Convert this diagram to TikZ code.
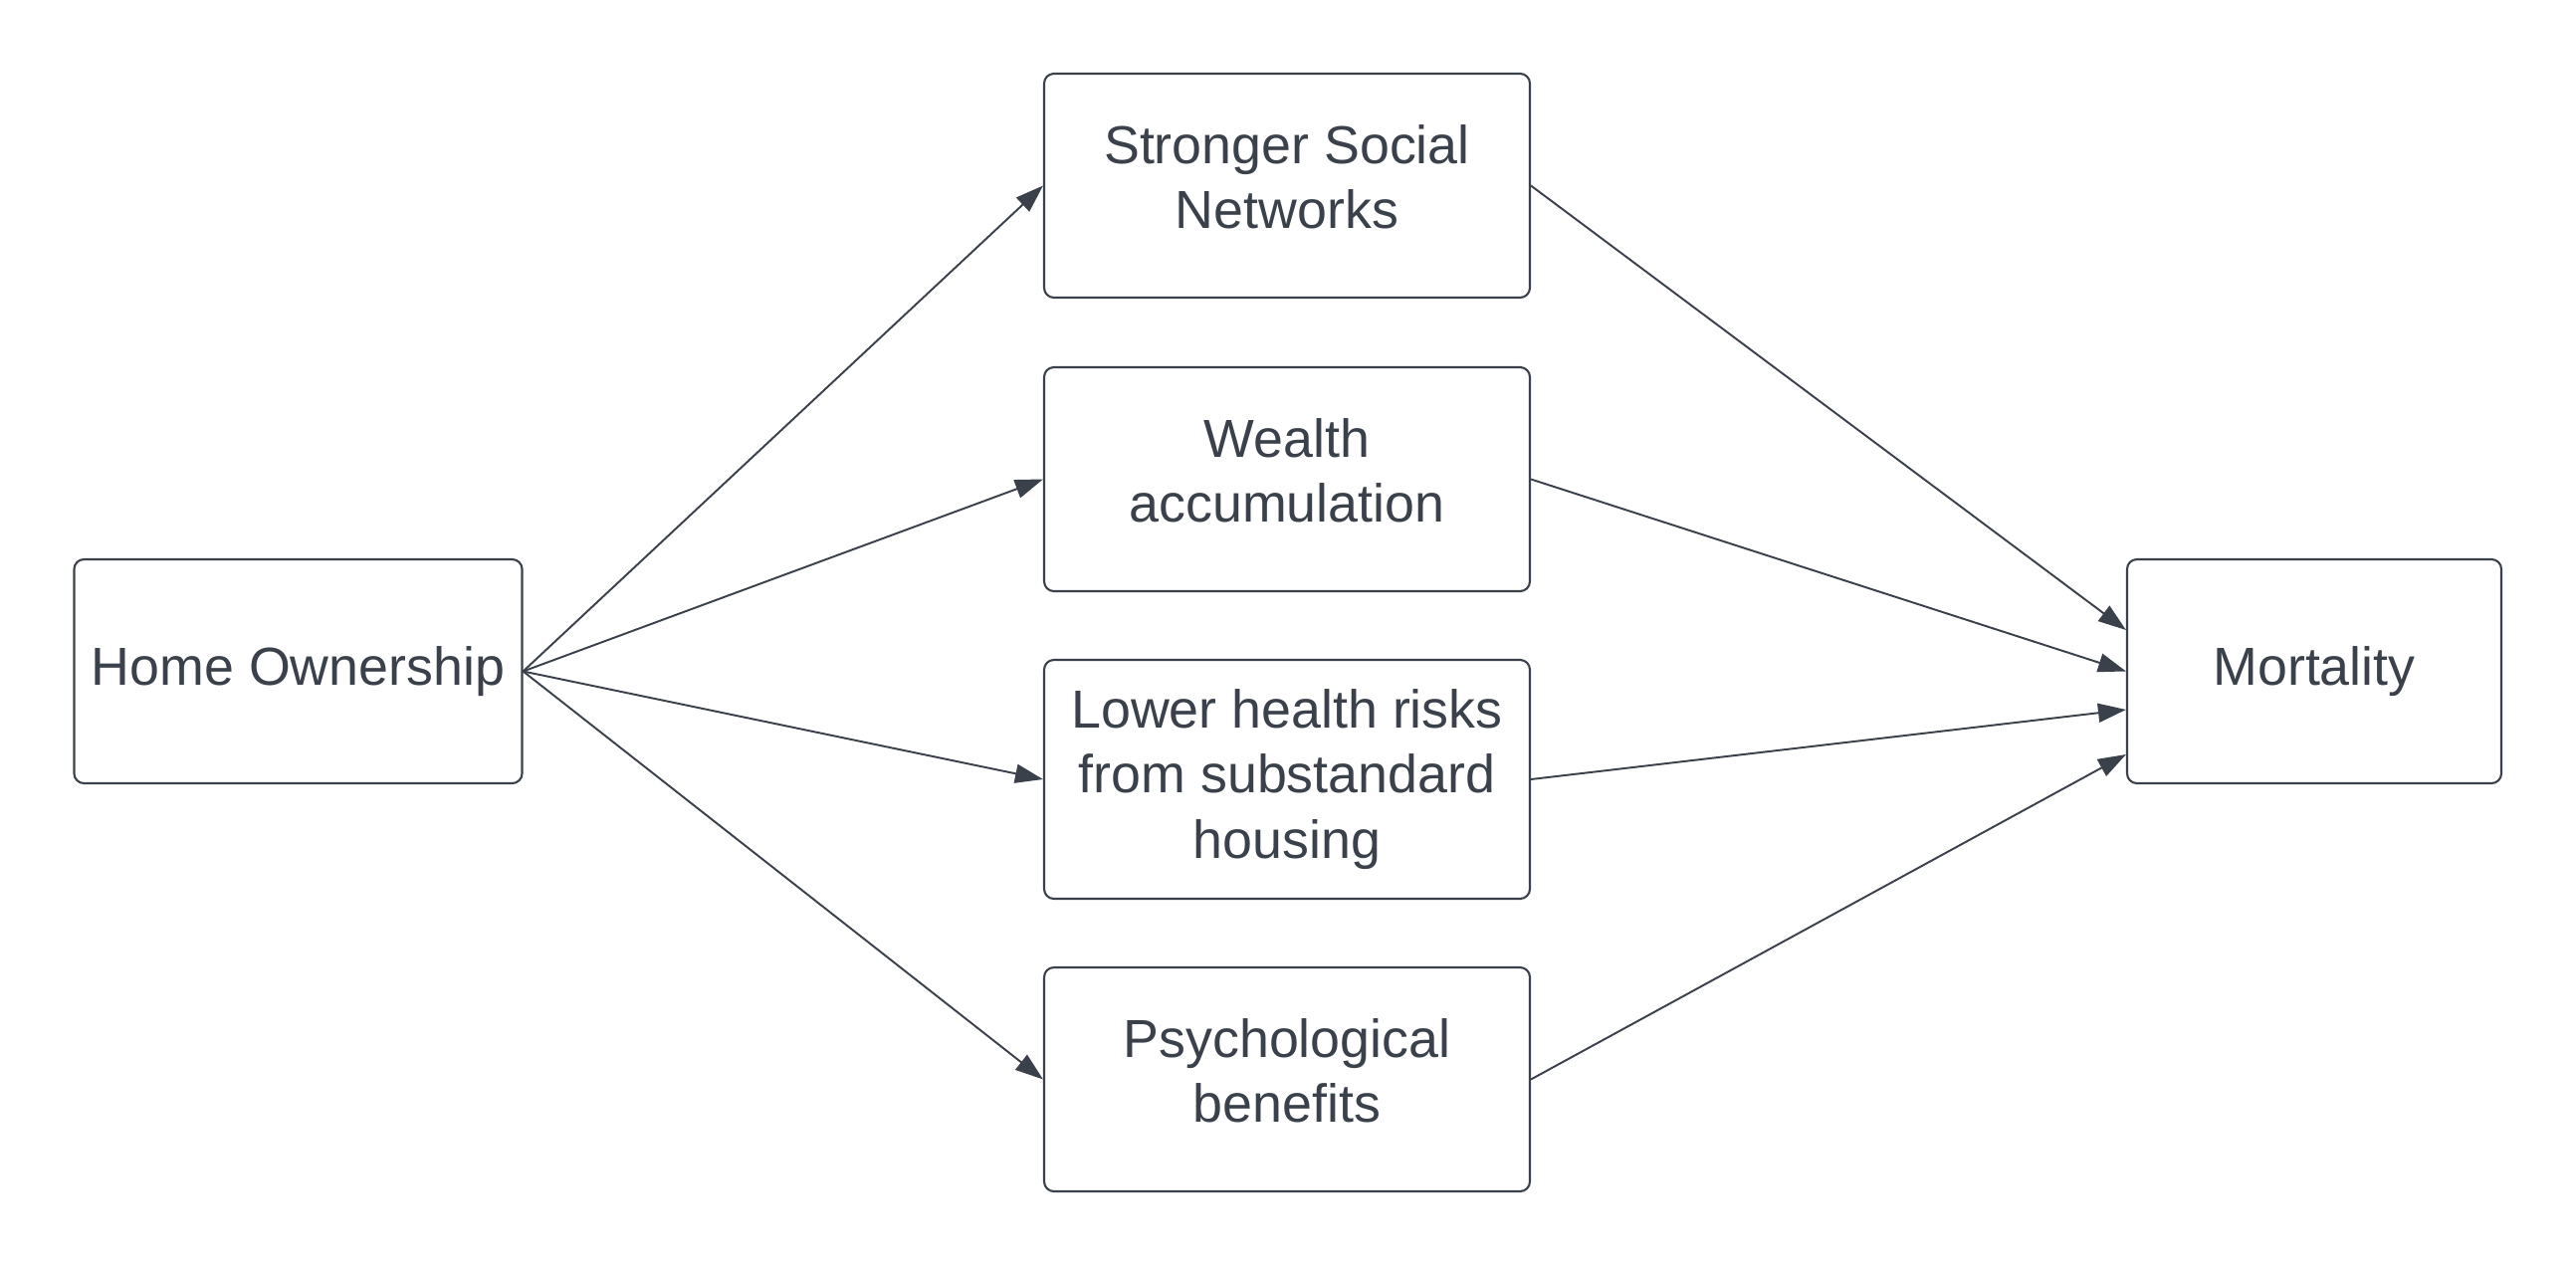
\documentclass[tikz,border=0pt]{standalone}
\usepackage{fontspec}
\setmainfont{Liberation Sans}
\usetikzlibrary{arrows.meta}
\definecolor{ink}{HTML}{3A414A}
\newcommand{\lastdepth}{\rule[-5pt]{0pt}{5pt}}
\tikzset{
  box/.style={draw=ink, line width=0.6pt, rounded corners=2.8pt, text=ink,
    font=\fontsize{15.3}{18.6}\selectfont, align=center, inner sep=0pt},
  conn/.style={draw=ink, line width=0.55pt, -{Triangle[length=0.28cm,width=0.19cm]}}
}
\begin{document}
\begin{tikzpicture}
\useasboundingbox (0,0) rectangle (25.88,-12.73);
\node[box, minimum width=4.5cm, minimum height=2.25cm] (home) at (2.995,-6.745) {Home Ownership};
\node[box, minimum width=4.88cm, minimum height=2.25cm] (ssn) at (12.93,-1.865) {Stronger Social\\Networks\lastdepth};
\node[box, minimum width=4.88cm, minimum height=2.25cm] (wealth) at (12.93,-4.815) {Wealth\\accumulation\lastdepth};
\node[box, minimum width=4.88cm, minimum height=2.40cm] (lower) at (12.93,-7.83) {Lower health risks\\from substandard\\housing};
\node[box, minimum width=4.88cm, minimum height=2.25cm] (psych) at (12.93,-10.845) {Psychological\\benefits\lastdepth};
\node[box, minimum width=3.76cm, minimum height=2.25cm] (mort) at (23.25,-6.745) {Mortality};
\draw[conn] (home.east) -- (ssn.west);
\draw[conn] (home.east) -- (wealth.west);
\draw[conn] (home.east) -- (lower.west);
\draw[conn] (home.east) -- (psych.west);
\draw[conn] (ssn.east) -- ([yshift=0.415cm]mort.west);
\draw[conn] (wealth.east) -- (mort.west);
\draw[conn] (lower.east) -- ([yshift=-0.385cm]mort.west);
\draw[conn] (psych.east) -- ([yshift=-0.835cm]mort.west);
\end{tikzpicture}
\end{document}
